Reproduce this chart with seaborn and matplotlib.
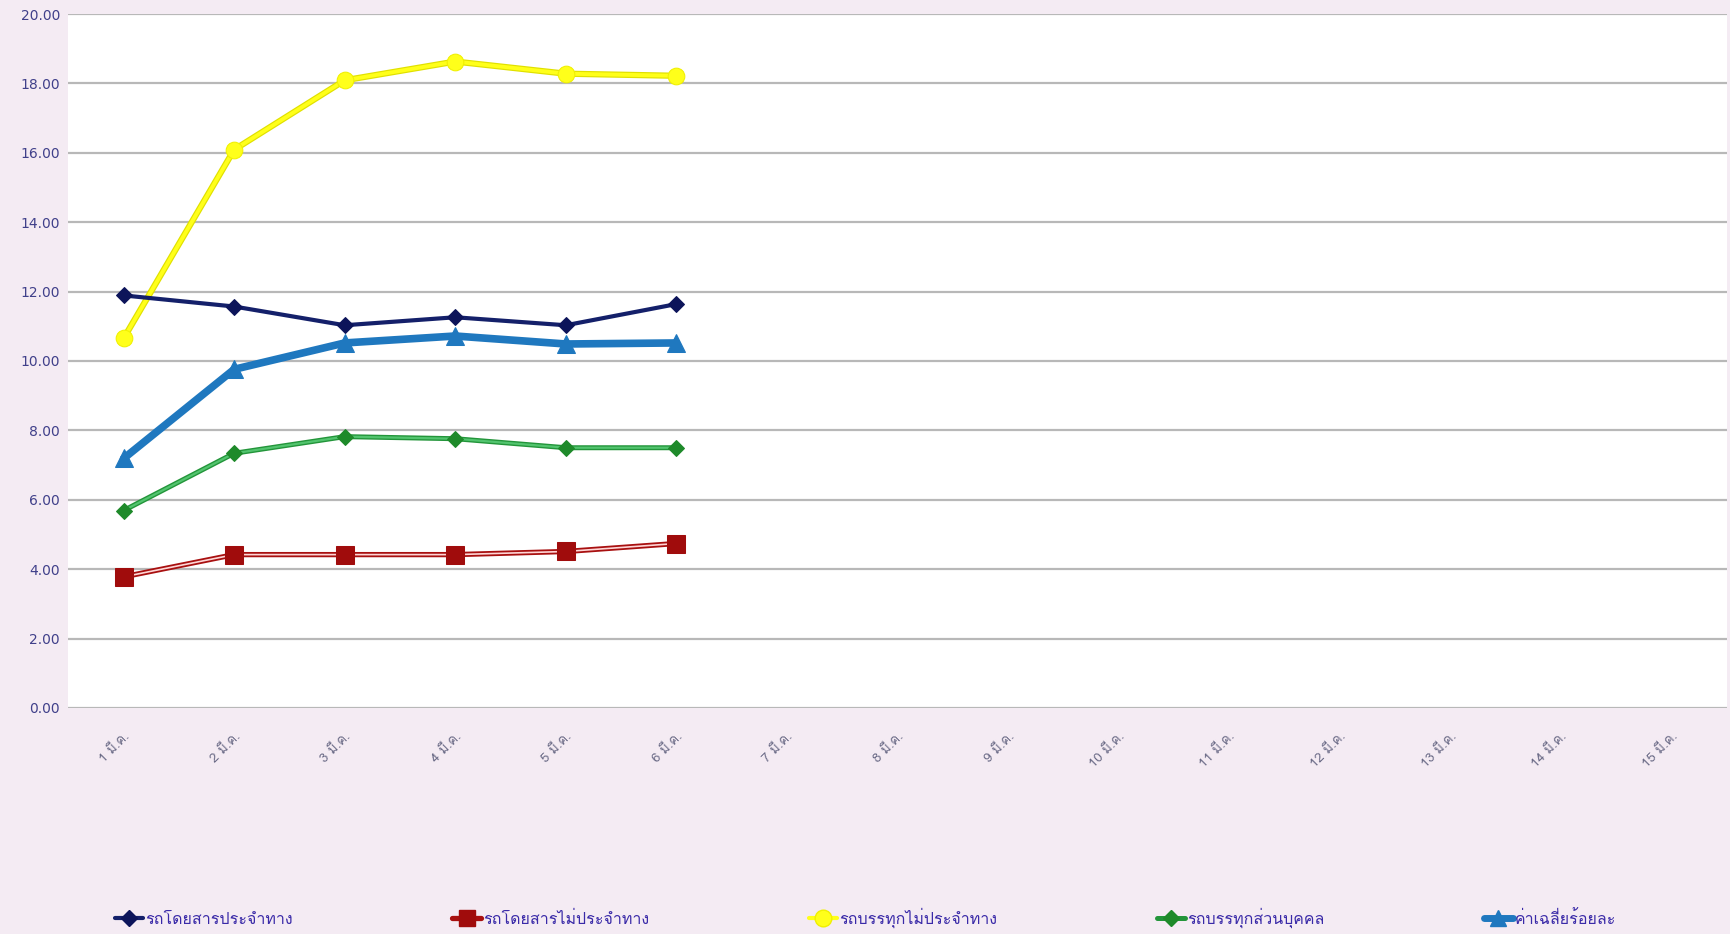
import numpy as np
import pandas as pd
import matplotlib
matplotlib.use('Agg')
import matplotlib.pyplot as plt
import seaborn as sns
from matplotlib import font_manager, ft2font
from matplotlib.lines import Line2D

# ข้อมูล (อ่านจากกราฟ)
day_num = [1, 2, 3, 4, 5, 6, 7, 8, 9, 10, 11, 12, 13, 14, 15]
date_labels = ["1 มี.ค.", "2 มี.ค.", "3 มี.ค.", "4 มี.ค.", "5 มี.ค.", "6 มี.ค.", "7 มี.ค.", "8 มี.ค.",
               "9 มี.ค.", "10 มี.ค.", "11 มี.ค.", "12 มี.ค.", "13 มี.ค.", "14 มี.ค.", "15 มี.ค."]
data_days = [1, 2, 3, 4, 5, 6]
bus_fixed = [11.89, 11.57, 11.03, 11.26, 11.03, 11.64]
bus_nonfixed = [3.78, 4.42, 4.42, 4.42, 4.51, 4.74]
truck_nonfixed = [10.65, 16.09, 18.09, 18.63, 18.28, 18.22]
truck_private = [5.69, 7.34, 7.82, 7.76, 7.50, 7.50]
average = [7.19, 9.76, 10.52, 10.72, 10.49, 10.52]
series_names = ["รถโดยสารประจำทาง", "รถโดยสารไม่ประจำทาง", "รถบรรทุกไม่ประจำทาง", "รถบรรทุกส่วนบุคคล", "ค่าเฉลี่ยร้อยละ"]


def thai_font():
    for f in font_manager.fontManager.ttflist:
        try:
            if 0x0E23 in ft2font.FT2Font(f.fname).get_charmap():
                return f.name
        except Exception:
            pass
    return 'DejaVu Sans'


sns.set_theme(style='white')
TH = thai_font()
plt.rcParams['font.family'] = [TH, 'DejaVu Sans']

BG = '#f4ebf3'
fig = plt.figure(figsize=(17.3, 9.34), dpi=100, facecolor=BG)
ax = fig.add_axes([0.0395, 0.242, 0.9585, 0.743])
ax.set_facecolor('white')

df = pd.DataFrame({'day': data_days, 'bus_fixed': bus_fixed, 'bus_nonfixed': bus_nonfixed,
                   'truck_nonfixed': truck_nonfixed, 'truck_private': truck_private, 'average': average})

# รถบรรทุกไม่ประจำทาง (เหลือง)
sns.lineplot(data=df, x='day', y='truck_nonfixed', ax=ax, color='#e0e000', linewidth=4.5, zorder=3)
sns.lineplot(data=df, x='day', y='truck_nonfixed', ax=ax, color='#ffff1a', linewidth=2.8, zorder=3,
             marker='o', markersize=12, markeredgecolor='#f0f000', markerfacecolor='#ffff1a')
# รถโดยสารประจำทาง (กรมท่า)
sns.lineplot(data=df, x='day', y='bus_fixed', ax=ax, color='#14206a', linewidth=3, zorder=4,
             marker='D', markersize=8, markeredgecolor='#0c145a', markerfacecolor='#0c145a')
# ค่าเฉลี่ยร้อยละ (ฟ้า)
sns.lineplot(data=df, x='day', y='average', ax=ax, color='#1f78bf', linewidth=5.5, zorder=4,
             marker='^', markersize=13, markeredgecolor='#1f78bf', markerfacecolor='#1f78bf')
# รถบรรทุกส่วนบุคคล (เขียว)
sns.lineplot(data=df, x='day', y='truck_private', ax=ax, color='#23953a', linewidth=3.6, zorder=4)
sns.lineplot(data=df, x='day', y='truck_private', ax=ax, color='#52c46e', linewidth=1.6, zorder=4,
             marker='D', markersize=8, markeredgecolor='#1e8a2a', markerfacecolor='#1e8a2a')
# รถโดยสารไม่ประจำทาง (แดง เส้นคู่)
sns.lineplot(data=df, x='day', y='bus_nonfixed', ax=ax, color='#a81010', linewidth=3.8, zorder=4)
sns.lineplot(data=df, x='day', y='bus_nonfixed', ax=ax, color='#ffd6d6', linewidth=1.2, zorder=4)
sns.lineplot(data=df, x='day', y='bus_nonfixed', ax=ax, linestyle='', zorder=5,
             marker='s', markersize=13, markeredgecolor='#a00c0c', markerfacecolor='#a00c0c')

ax.set_xlim(0.5, 15.5)
ax.set_ylim(0, 20)
ax.set_yticks(np.arange(0, 21, 2))
ax.set_yticklabels([f"{v:.2f}" for v in np.arange(0, 21, 2)], fontsize=10, color='#40408a',
                   family=['Liberation Sans Narrow', 'DejaVu Sans'])
ax.set_xticks(day_num)
ax.set_xticklabels(date_labels, rotation=45, ha='right', rotation_mode='anchor',
                   fontsize=9.5, color='#6a6a86')
ax.tick_params(axis='both', length=0)
ax.tick_params(axis='x', pad=16)
ax.tick_params(axis='y', pad=6)
ax.set_xlabel('')
ax.set_ylabel('')
ax.grid(axis='y', color='#b8b8b8', linewidth=1.6)
ax.grid(axis='x', visible=False)
for s in ax.spines.values():
    s.set_visible(False)

handles = [
    Line2D([], [], color='#14206a', linewidth=3, marker='D', markersize=8, markerfacecolor='#0c145a', markeredgecolor='#0c145a'),
    Line2D([], [], color='#a81010', linewidth=3.8, marker='s', markersize=11, markerfacecolor='#a00c0c', markeredgecolor='#a00c0c'),
    Line2D([], [], color='#ffff1a', linewidth=3, marker='o', markersize=12, markerfacecolor='#ffff1a', markeredgecolor='#f0f000'),
    Line2D([], [], color='#23953a', linewidth=3.6, marker='D', markersize=8, markerfacecolor='#1e8a2a', markeredgecolor='#1e8a2a'),
    Line2D([], [], color='#1f78bf', linewidth=5, marker='^', markersize=12, markerfacecolor='#1f78bf', markeredgecolor='#1f78bf'),
]
leg = fig.legend(handles, series_names, loc='lower left', bbox_to_anchor=(0.058, -0.009), ncol=5,
                 frameon=False, fontsize=11.5, handlelength=1.8, handletextpad=0.1, columnspacing=10.0)
for t in leg.get_texts():
    t.set_color('#3a2aa8')

fig.savefig('out.png', dpi=100, facecolor=BG)
